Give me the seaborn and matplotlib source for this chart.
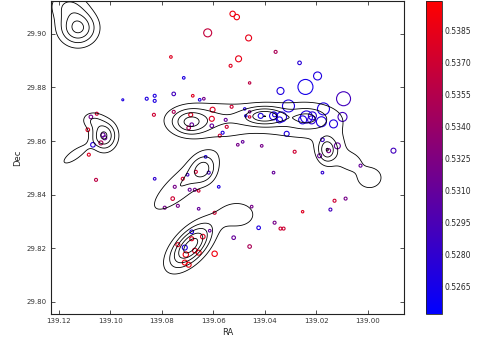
import numpy as np
import pandas as pd
import seaborn as sns
import matplotlib.pyplot as plt
from matplotlib.colors import LinearSegmentedColormap, Normalize
from matplotlib.cm import ScalarMappable

# catalogue points: RA, Dec, circle radius (px) and colour value
ra = [139.0622, 139.0525, 139.0509, 139.0463, 139.0765, 139.0502, 139.0533, 139.0358,
      139.0715, 139.0459, 139.0265, 139.0195, 139.0242, 139.0339, 139.0094, 139.0308,
      139.0952, 139.0859, 139.0828, 139.0828, 139.0754, 139.0680, 139.0653, 139.0637,
      139.0831, 139.0754, 139.0688, 139.0603, 139.0606, 139.0529, 139.0478, 139.0459,
      139.0474, 139.0459, 139.0416, 139.0552, 139.0684, 139.0696, 139.0606, 139.0548,
      139.0564, 139.0575, 139.0505, 139.0486, 139.0412, 139.0366, 139.0335, 139.0343,
      139.0362, 139.0172, 139.0238, 139.0215, 139.0218, 139.0180, 139.0133, 139.0098,
      139.0253, 139.0315, 139.0176, 139.0118, 139.0152, 139.0187, 138.9900, 139.0284,
      139.0028, 139.0176, 139.0366, 139.1076, 139.1053, 139.1088, 139.1029, 139.1022,
      139.1068, 139.1037, 139.1084, 139.1056, 139.0630, 139.0668, 139.0618, 139.0700,
      139.0719, 139.0828, 139.0579, 139.0750, 139.0692, 139.0672, 139.0657, 139.0758,
      139.0738, 139.0789, 139.0657, 139.0595, 139.0451, 139.0684, 139.0614, 139.0424,
      139.0684, 139.0641, 139.0521, 139.0459, 139.0738, 139.0711, 139.0707, 139.0672,
      139.0657, 139.0595, 139.0711, 139.0696, 139.0129, 139.0086, 139.0253, 139.0145,
      139.0362, 139.0339, 139.0327]
dec = [29.9004, 29.9075, 29.9063, 29.8985, 29.8914, 29.8907, 29.8881, 29.8933,
       29.8836, 29.8817, 29.8892, 29.8843, 29.8802, 29.8787, 29.8758, 29.8731,
       29.8754, 29.8758, 29.8769, 29.8750, 29.8776, 29.8769, 29.8754, 29.8758,
       29.8698, 29.8709, 29.8698, 29.8717, 29.8683, 29.8728, 29.8720, 29.8709,
       29.8694, 29.8690, 29.8694, 29.8679, 29.8661, 29.8649, 29.8657, 29.8653,
       29.8631, 29.8620, 29.8586, 29.8597, 29.8582, 29.8694, 29.8690, 29.8679,
       29.8698, 29.8720, 29.8690, 29.8694, 29.8679, 29.8672, 29.8664, 29.8690,
       29.8679, 29.8627, 29.8605, 29.8582, 29.8564, 29.8545, 29.8564, 29.8560,
       29.8508, 29.8482, 29.8482, 29.8690, 29.8702, 29.8642, 29.8623, 29.8612,
       29.8586, 29.8593, 29.8549, 29.8455, 29.8541, 29.8485, 29.8482, 29.8474,
       29.8459, 29.8459, 29.8429, 29.8429, 29.8418, 29.8418, 29.8414, 29.8385,
       29.8358, 29.8351, 29.8347, 29.8332, 29.8355, 29.8261, 29.8265, 29.8276,
       29.8235, 29.8243, 29.8239, 29.8206, 29.8213, 29.8202, 29.8176, 29.8191,
       29.8183, 29.8179, 29.8146, 29.8138, 29.8377, 29.8385, 29.8336, 29.8344,
       29.8295, 29.8273, 29.8273]
radius = [4.0, 2.7, 2.7, 3.0, 1.3, 3.0, 1.5, 1.5,
          1.3, 1.2, 1.8, 4.0, 7.5, 3.5, 7.0, 6.0,
          1.0, 1.5, 1.5, 1.5, 1.8, 1.3, 1.3, 1.3,
          1.5, 1.5, 2.0, 2.5, 2.5, 1.5, 1.2, 1.2,
          1.2, 1.2, 2.5, 1.5, 1.8, 1.8, 1.8, 1.5,
          1.5, 1.5, 1.3, 1.3, 1.3, 4.0, 5.0, 3.0,
          2.0, 6.0, 6.0, 4.0, 4.0, 5.0, 4.0, 4.5,
          4.0, 2.5, 1.8, 3.0, 2.0, 2.0, 2.5, 1.5,
          1.5, 1.3, 1.3, 1.8, 1.5, 1.8, 2.0, 2.0,
          2.3, 2.0, 1.5, 1.5, 1.3, 1.5, 1.5, 1.3,
          1.5, 1.3, 1.3, 1.5, 1.5, 1.5, 1.3, 1.8,
          1.5, 1.5, 1.3, 1.5, 1.3, 1.8, 1.3, 1.8,
          2.0, 2.3, 1.8, 1.8, 2.0, 2.5, 2.7, 2.3,
          2.5, 2.7, 2.5, 2.5, 1.5, 1.5, 1.2, 1.5,
          1.5, 1.5, 1.5]
value = [0.5365, 0.5390, 0.5390, 0.5385, 0.5380, 0.5385, 0.5380, 0.5350,
         0.5270, 0.5360, 0.5275, 0.5270, 0.5265, 0.5270, 0.5290, 0.5270,
         0.5270, 0.5270, 0.5270, 0.5270, 0.5290, 0.5380, 0.5270, 0.5320,
         0.5370, 0.5350, 0.5380, 0.5380, 0.5380, 0.5370, 0.5270, 0.5320,
         0.5270, 0.5370, 0.5270, 0.5310, 0.5310, 0.5350, 0.5310, 0.5370,
         0.5270, 0.5370, 0.5320, 0.5310, 0.5320, 0.5270, 0.5270, 0.5270,
         0.5270, 0.5270, 0.5270, 0.5275, 0.5280, 0.5270, 0.5270, 0.5290,
         0.5270, 0.5270, 0.5285, 0.5310, 0.5320, 0.5310, 0.5290, 0.5370,
         0.5310, 0.5280, 0.5310, 0.5320, 0.5370, 0.5380, 0.5310, 0.5310,
         0.5275, 0.5350, 0.5380, 0.5360, 0.5270, 0.5370, 0.5290, 0.5290,
         0.5370, 0.5280, 0.5270, 0.5320, 0.5310, 0.5320, 0.5370, 0.5370,
         0.5320, 0.5320, 0.5310, 0.5370, 0.5320, 0.5270, 0.5310, 0.5270,
         0.5380, 0.5380, 0.5310, 0.5350, 0.5380, 0.5270, 0.5390, 0.5380,
         0.5390, 0.5390, 0.5390, 0.5390, 0.5370, 0.5320, 0.5380, 0.5290,
         0.5320, 0.5370, 0.5370]

# density blobs behind the contours: RA, Dec, major/minor sigma (deg), angle, peak
blob_ra = [139.1126, 139.1165, 139.1025, 139.1072, 139.1138, 139.0595, 139.0246, 139.0692,
           139.0401, 139.0234, 139.0160, 139.0137, 138.9993, 139.0063, 139.0637, 139.0715,
           139.0506, 139.0688]
blob_dec = [29.9022, 29.9108, 29.8620, 29.8679, 29.8549, 29.8683, 29.8676, 29.8669,
            29.8694, 29.8687, 29.8567, 29.8560, 29.8463, 29.8523, 29.8493, 29.8444,
            29.8325, 29.8209]
blob_sa = [0.0050, 0.0053, 0.0034, 0.0030, 0.0046, 0.0133, 0.0133, 0.0048,
           0.0053, 0.0053, 0.0023, 0.0046, 0.0046, 0.0030, 0.0034, 0.0122,
           0.0061, 0.0072]
blob_sb = [0.0044, 0.0038, 0.0038, 0.0023, 0.0015, 0.0046, 0.0057, 0.0033,
           0.0023, 0.0027, 0.0030, 0.0046, 0.0038, 0.0025, 0.0038, 0.0038,
           0.0042, 0.0036]
blob_ang = [0, 0, 0, 0, 34, 0, 0, 0, 0, 0, 0, 0, 0, 0, 0, 40, 0, 45]
blob_amp = [4.3, 1.8, 4.2, 1.6, 1.8, 2.0, 1.7, 3.0, 3.5, 1.6, 2.5, 1.5, 1.6, 1.3, 2.2, 2.0,
            1.6, 5.6]
levels = [1, 2, 3, 4, 5]

ra_lim = (139.1231, 138.9859)
dec_lim = (29.7954, 29.9123)
cb_ticks = [0.5265, 0.5280, 0.5295, 0.5310, 0.5325, 0.5340, 0.5355, 0.5370, 0.5385]
vmin, vmax = 0.5252, 0.5399


def density(gra, gdec):
    z = np.zeros_like(gra)
    for x0, y0, sa, sb, ang, amp in zip(blob_ra, blob_dec, blob_sa, blob_sb, blob_ang, blob_amp):
        dx = x0 - gra
        dy = gdec - y0
        t = np.radians(ang)
        u = dx * np.cos(t) + dy * np.sin(t)
        v = -dx * np.sin(t) + dy * np.cos(t)
        z += amp * np.exp(-0.5 * ((u / sa) ** 2 + (v / sb) ** 2))
    return z


sns.set_style("ticks")
plt.rcParams['font.family'] = ['DejaVu Sans']

cmap = LinearSegmentedColormap.from_list('br', ['#0000ff', '#ff0000'])
norm = Normalize(vmin, vmax)

fig = plt.figure(figsize=(4.88, 3.43), dpi=100)
ax = fig.add_axes([51 / 488, 29 / 343, 353 / 488, 313 / 343])
cax = fig.add_axes([426 / 488, 29 / 343, 16 / 488, 313 / 343])

gx, gy = np.meshgrid(np.linspace(138.98, 139.13, 400), np.linspace(29.79, 29.92, 400))
ax.contour(gx, gy, density(gx, gy), levels=levels, colors='black', linewidths=0.6)

df = pd.DataFrame({'RA': ra, 'Dec': dec, 'value': value,
                   's': (2 * np.array(radius) * 0.72) ** 2})
smin, smax = df['s'].min(), df['s'].max()
sns.scatterplot(data=df, x='RA', y='Dec', hue='value', palette=cmap, hue_norm=norm,
                size='s', sizes=(smin, smax), size_norm=(smin, smax),
                linewidth=0.8, legend=False, ax=ax)
pts = ax.collections[-1]
pts.set_edgecolors(pts.get_facecolors())
pts.set_facecolors('none')

ax.set_xlim(ra_lim)
ax.set_ylim(dec_lim)
ax.set_xticks([139.12, 139.10, 139.08, 139.06, 139.04, 139.02, 139.00])
ax.set_yticks([29.80, 29.82, 29.84, 29.86, 29.88, 29.90])
ax.xaxis.set_major_formatter(plt.FormatStrFormatter('%.2f'))
ax.yaxis.set_major_formatter(plt.FormatStrFormatter('%.2f'))
ax.tick_params(direction='in', top=True, right=True, labelsize=5, length=3, width=0.6,
               colors='#333333', pad=3)
for sp in ax.spines.values():
    sp.set_linewidth(0.8)
    sp.set_color('#222222')
ax.set_xlabel('RA', fontsize=6, labelpad=3)
ax.set_ylabel('Dec', fontsize=6, labelpad=3)

cb = fig.colorbar(ScalarMappable(norm=norm, cmap=cmap), cax=cax, ticks=cb_ticks)
cb.ax.yaxis.set_major_formatter(plt.FormatStrFormatter('%.4f'))
cb.ax.tick_params(labelsize=5.5, length=2, width=0.5, direction='in', pad=2)
cb.outline.set_linewidth(0.6)

fig.savefig('out.png', dpi=100)
